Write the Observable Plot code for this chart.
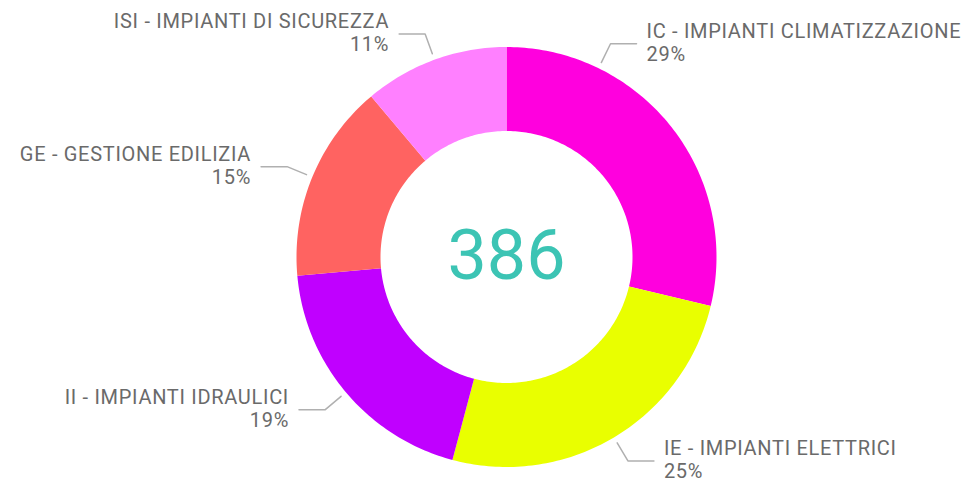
<!DOCTYPE html>
<html>
<head>
<meta charset="utf-8">
<script src="https://cdn.jsdelivr.net/npm/d3@7"></script>
<script src="https://cdn.jsdelivr.net/npm/@observablehq/plot@0.6"></script>
<style>
  html, body { margin: 0; padding: 0; background: #ffffff; }
  #chart { width: 965px; height: 482px; }
  g[font-size="20"] text { letter-spacing: 0.7px; }
</style>
</head>
<body>
<div id="chart"></div>
<script>
// ---------- DATA ----------
const categories = [
  "IC - IMPIANTI CLIMATIZZAZIONE",
  "IE - IMPIANTI ELETTRICI",
  "II - IMPIANTI IDRAULICI",
  "GE - GESTIONE EDILIZIA",
  "ISI - IMPIANTI DI SICUREZZA"
];
const counts = [111, 98, 75, 59, 43];
const colors = ["#FF00DE", "#E9FF00", "#C000FF", "#FF6361", "#FF80FF"];
const totalLabel = "386";

// ---------- LAYOUT ----------
const W = 965, H = 482;
const cx = 506, cy = 256.5, R = 210;   // pixel centre and outer radius
const innerRatio = 0.6;
const font = "Roboto, 'DejaVu Sans Condensed', sans-serif";
// label of the first slice is pushed up (no room on the right at its mid-angle)
const labelAngleOverride = new Map([["IC - IMPIANTI CLIMATIZZAZIONE", 26]]);

const rows = categories.map((name, i) => ({name, count: counts[i]}));
const total = d3.sum(counts);
const arcs = d3.pie().sort(null).value(d => d.count)(rows);

// slice polygons in unit coordinates (outer radius = 1)
const polys = [];
for (const a of arcs) {
  const n = Math.max(2, Math.ceil((a.endAngle - a.startAngle) * 180 / Math.PI));
  for (let k = 0; k <= n; k++) {
    const t = a.startAngle + (a.endAngle - a.startAngle) * k / n;
    polys.push({name: a.data.name, x: Math.sin(t), y: Math.cos(t)});
  }
  for (let k = n; k >= 0; k--) {
    const t = a.startAngle + (a.endAngle - a.startAngle) * k / n;
    polys.push({name: a.data.name, x: innerRatio * Math.sin(t), y: innerRatio * Math.cos(t)});
  }
}

// leader lines and labels
const leaders = [];
const labels = [];
for (const a of arcs) {
  const name = a.data.name;
  const deg = labelAngleOverride.has(name)
    ? labelAngleOverride.get(name)
    : (a.startAngle + a.endAngle) / 2 * 180 / Math.PI;
  const t = deg * Math.PI / 180;
  const side = Math.sin(t) >= 0 ? 1 : -1;
  const x0 = 1.03 * Math.sin(t), y0 = 1.03 * Math.cos(t);
  const x1 = 1.13 * Math.sin(t), y1 = 1.13 * Math.cos(t);
  const x2 = x1 + side * 26 / R;
  leaders.push({name, x: x0, y: y0}, {name, x: x1, y: y1}, {name, x: x2, y: y1});
  labels.push({
    name,
    pct: Math.round(a.data.count / total * 100) + "%",
    x: x2, y: y1, side
  });
}

const labelStyle = {fontFamily: font, fontSize: 20, fill: "#6a6a6a", lineAnchor: "middle"};

const chart = Plot.plot({
  width: W,
  height: H,
  margin: 0,
  style: {fontFamily: font, background: "#ffffff"},
  x: {domain: [-1, 1], range: [cx - R, cx + R], axis: null},
  y: {domain: [-1, 1], range: [cy + R, cy - R], axis: null},
  color: {domain: categories, range: colors},
  marks: [
    Plot.line(polys, {x: "x", y: "y", z: "name", fill: "name", stroke: null, curve: "linear-closed"}),
    Plot.line(leaders, {x: "x", y: "y", z: "name", stroke: "#b0b0b0", strokeWidth: 1.5}),
    Plot.text(labels.filter(d => d.side > 0), {x: "x", y: "y", text: "name", textAnchor: "start", dx: 10, dy: -12, ...labelStyle}),
    Plot.text(labels.filter(d => d.side > 0), {x: "x", y: "y", text: "pct", textAnchor: "start", dx: 10, dy: 11, ...labelStyle}),
    Plot.text(labels.filter(d => d.side < 0), {x: "x", y: "y", text: "name", textAnchor: "end", dx: -10, dy: -12, ...labelStyle}),
    Plot.text(labels.filter(d => d.side < 0), {x: "x", y: "y", text: "pct", textAnchor: "end", dx: -10, dy: 11, ...labelStyle}),
    Plot.text([totalLabel], {x: () => 0, y: () => 0, text: d => d, fontFamily: font, fontSize: 70, fill: "#3CC4B4", lineAnchor: "middle"})
  ]
});
document.getElementById("chart").appendChild(chart);
</script>
</body>
</html>
